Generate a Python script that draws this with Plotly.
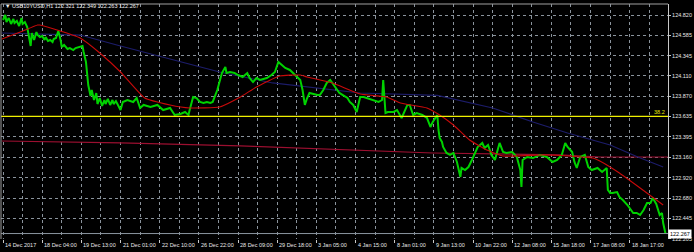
import plotly.graph_objects as go

# ---------------- data ----------------
title_text = "USB10YUSD,H1 122.321 122.349 122.263 122.267"

x_labels = ["14 Dec 2017", "18 Dec 04:00", "19 Dec 13:00", "21 Dec 01:00", "22 Dec 10:00",
            "26 Dec 22:00", "28 Dec 09:00", "29 Dec 18:00", "3 Jan 05:00", "4 Jan 15:00",
            "8 Jan 01:00", "9 Jan 13:00", "10 Jan 22:00", "12 Jan 08:00", "15 Jan 18:00",
            "17 Jan 08:00", "18 Jan 17:00"]
label_bars = [0, 34, 68, 102, 136, 170, 204, 238, 272, 306, 340, 374, 408, 442, 476, 510, 544]

y_ticks = [124.820, 124.585, 124.345, 124.110, 123.870, 123.635, 123.395,
           123.160, 122.920, 122.680, 122.445, 122.205]

bid = 122.267
fib_level = 123.635
fib_text = "38.2"

price_bar = [0, 2, 3, 5, 7, 9, 10, 12, 14, 16, 17, 19, 21, 23, 24, 25, 27, 29, 30, 32, 34, 36, 37, 39, 41,
             43, 44, 46, 48, 50, 51, 53, 56, 58, 61, 63, 66, 69, 70, 72, 74,
             76, 77, 79, 81, 82, 84, 86, 88, 89, 91, 93, 95, 96, 98, 100,
             102, 104, 108, 113, 116, 119, 122, 128, 134, 139, 145, 149, 154, 158, 161, 162, 164, 165, 168,
             171, 174, 177, 180, 182, 186, 188, 190, 193, 194, 197, 201, 204, 208, 212, 214, 217, 220, 223,
             229, 233, 236, 239, 242, 245, 249, 252, 256, 258, 260, 261, 262, 264, 266, 273, 275, 278, 281,
             284, 286, 290, 292, 295, 299, 301, 304, 307, 310,
             313, 316, 321, 326, 329, 330, 332, 334, 339, 342, 346, 351, 353, 356, 359, 364, 368, 371, 373,
             377, 378, 379, 381, 382, 385, 388, 391, 394, 397, 398, 401, 404, 407, 410, 412, 416, 418, 421,
             424, 427, 430, 431, 434, 437, 442, 446, 449, 450, 451, 455, 460, 466, 472, 477, 481, 485, 488,
             490, 494, 496, 498, 501, 505, 508, 511, 516, 520, 524, 525,
             527, 529, 533, 535, 538, 542, 544, 547, 550, 553, 556, 559, 562, 564, 567, 569, 570, 572, 573, 575]

price = [124.762, 124.820, 124.738, 124.785, 124.715, 124.773, 124.727, 124.750, 124.692, 124.785,
         124.715, 124.738, 124.680, 124.551, 124.458, 124.610, 124.528, 124.621, 124.586, 124.563,
         124.575, 124.528, 124.563, 124.516, 124.528, 124.505, 124.540, 124.551, 124.633, 124.528,
         124.446, 124.470, 124.423, 124.434, 124.411, 124.434, 124.446, 124.458, 124.388, 124.271, 124.002,
         123.874, 123.944, 123.827, 123.909, 123.780, 123.850, 123.757, 123.827, 123.780, 123.839,
         123.769, 123.827, 123.780, 123.815, 123.757,
         123.710, 123.804, 123.827, 123.804, 123.850, 123.734, 123.769, 123.745, 123.769, 123.710,
         123.734, 123.652, 123.664, 123.687, 123.652, 123.710, 123.827, 123.862, 123.850, 123.804,
         123.792, 123.804, 123.792, 123.804, 123.944, 124.061, 124.142, 124.213, 124.142, 124.154,
         124.142, 124.119, 124.096, 124.142, 124.084, 124.037, 124.084, 124.061, 124.084, 124.119,
         124.154, 124.271, 124.236, 124.201, 124.178, 124.142, 124.096, 124.061, 123.944, 123.862,
         123.769, 123.850, 123.909, 123.885, 123.885, 123.944, 124.026, 124.061, 124.026, 123.944,
         123.909, 123.885, 123.850, 123.804, 123.769, 123.687, 123.862,
         123.862, 123.850, 123.827, 123.804, 123.827, 124.061, 123.675, 123.687, 123.687, 123.710,
         123.617, 123.769, 123.769, 123.652, 123.675, 123.652, 123.617, 123.512, 123.570, 123.652,
         123.477, 123.383, 123.337, 123.278, 123.208, 123.185, 123.208, 123.103, 122.928, 123.033,
         123.009, 123.044, 123.126, 123.220, 123.278, 123.325, 123.266, 123.301, 123.185, 123.126,
         123.278, 123.325, 123.220, 123.208, 123.220, 123.161, 123.009, 122.811, 123.126, 123.161,
         123.149, 123.185, 123.161, 123.103, 123.126, 123.185, 123.325, 123.278, 123.220, 123.103,
         123.033, 123.161, 123.185, 123.044, 123.009, 123.033, 122.986, 123.033, 122.776,
         122.741, 122.741, 122.752, 122.694, 122.659, 122.600, 122.565, 122.507, 122.507, 122.484,
         122.542, 122.624, 122.624, 122.682, 122.612, 122.542, 122.484, 122.507, 122.390, 122.267]

ma_fast_bar = [-1, 15, 30, 32, 47, 67, 84, 102, 123, 145, 162, 188, 206, 220, 240, 258, 264, 286, 310,
               333, 345, 368, 379, 391, 405, 420, 434, 469, 490, 512, 518, 535, 553, 573]
ma_fast = [124.540, 124.621, 124.703, 124.703, 124.645, 124.551, 124.376, 124.154, 123.850, 123.769,
           123.734, 123.745, 123.862, 123.979, 124.107, 124.119, 124.096, 124.026, 123.897, 123.862,
           123.792, 123.734, 123.652, 123.535, 123.360, 123.243, 123.173, 123.185, 123.173, 123.149,
           123.114, 122.974, 122.799, 122.600]

ma_slow_bar = [-1, 67, 102, 188, 234, 310, 377, 425, 460, 490, 527, 551, 573]
ma_slow = [124.610, 124.586, 124.458, 124.154, 124.026, 123.909, 123.880, 123.734, 123.570, 123.442,
           123.301, 123.161, 123.044]

ma_long_bar = [-1, 102, 206, 327, 373, 483, 518, 577]
ma_long = [123.348, 123.325, 123.290, 123.235, 123.208, 123.185, 123.161, 123.161]

# ---------------- figure ----------------
FONT = "Liberation Sans"
GRID = "#8a939c"

fig = go.Figure()
fig.add_trace(go.Scatter(x=ma_long_bar, y=ma_long, mode="lines",
                         line=dict(color="#9c0f30", width=1.2), hoverinfo="skip"))
fig.add_trace(go.Scatter(x=ma_slow_bar, y=ma_slow, mode="lines",
                         line=dict(color="#1c1c6a", width=1.2), hoverinfo="skip"))
fig.add_trace(go.Scatter(x=price_bar, y=price, mode="lines",
                         line=dict(color="#00d200", width=2.0), hoverinfo="skip"))
fig.add_trace(go.Scatter(x=ma_fast_bar, y=ma_fast, mode="lines",
                         line=dict(color="#c80a0a", width=1.1, shape="spline", smoothing=0.4),
                         hoverinfo="skip"))

annotations = [dict(x=b, y=0, xref="x", yref="paper", text=t, showarrow=False,
                    xanchor="left", yanchor="top", xshift=0, yshift=-1,
                    font=dict(family=FONT, size=5.5, color="#e8e8e8"))
               for b, t in zip(label_bars, x_labels)]
annotations.append(dict(x=0, y=1, xref="paper", yref="paper", text="\u25bc " + title_text,
                        showarrow=False, xanchor="left", yanchor="top", xshift=2, yshift=3,
                        font=dict(family=FONT, size=5.5, color="#f0f0f0")))
annotations.append(dict(x=1, y=bid, xref="paper", yref="y", text=f"{bid:.3f}", showarrow=False,
                        xanchor="left", yanchor="middle", xshift=0, bgcolor="#ffffff", borderpad=1,
                        font=dict(family=FONT, size=5.5, color="#000000")))
annotations.append(dict(x=1, y=fib_level, xref="paper", yref="y", text=fib_text, showarrow=False,
                        xanchor="right", yanchor="bottom", xshift=-1, yshift=-1,
                        font=dict(family=FONT, size=5.5, color="#e6e600")))

shapes = [
    dict(type="line", xref="paper", yref="y", x0=0, x1=1, y0=fib_level, y1=fib_level,
         line=dict(color="#f0f000", width=1.2), layer="above"),
    dict(type="line", xref="paper", yref="y", x0=0, x1=1, y0=bid, y1=bid,
         line=dict(color="#8a949e", width=1), layer="above"),
    dict(type="line", xref="paper", yref="paper", x0=0, x1=1, y0=1, y1=1,
         line=dict(color="#a0a0a0", width=1)),
    dict(type="line", xref="paper", yref="paper", x0=0, x1=0, y0=0, y1=1,
         line=dict(color="#a0a0a0", width=1)),
]

fig.update_layout(
    width=694, height=252,
    margin=dict(l=1, r=26, t=4, b=13, pad=0),
    paper_bgcolor="#000000", plot_bgcolor="#000000",
    showlegend=False,
    annotations=annotations, shapes=shapes,
    xaxis=dict(range=[-1.74, 577.2], tickmode="array", tickvals=label_bars,
               showticklabels=False, ticks="outside", ticklen=3, tickcolor="#c8c8c8",
               showgrid=True, gridcolor=GRID, griddash="3px,3px", gridwidth=1,
               minor=dict(tick0=0, dtick=17, showgrid=True, gridcolor=GRID,
                          griddash="3px,3px", gridwidth=1),
               zeroline=False, showline=False, fixedrange=True),
    yaxis=dict(side="right", range=[122.2032, 124.9485], tickmode="array", tickvals=y_ticks,
               ticktext=[f"{v:.3f}" for v in y_ticks], ticks="outside", ticklen=2,
               tickcolor="#c8c8c8", tickfont=dict(family=FONT, size=5.5, color="#e8e8e8"),
               showgrid=True, gridcolor=GRID, griddash="3px,3px", gridwidth=1,
               showline=True, linecolor="#c8c8c8", linewidth=1, zeroline=False, fixedrange=True),
)

fig.write_html("out.html")
